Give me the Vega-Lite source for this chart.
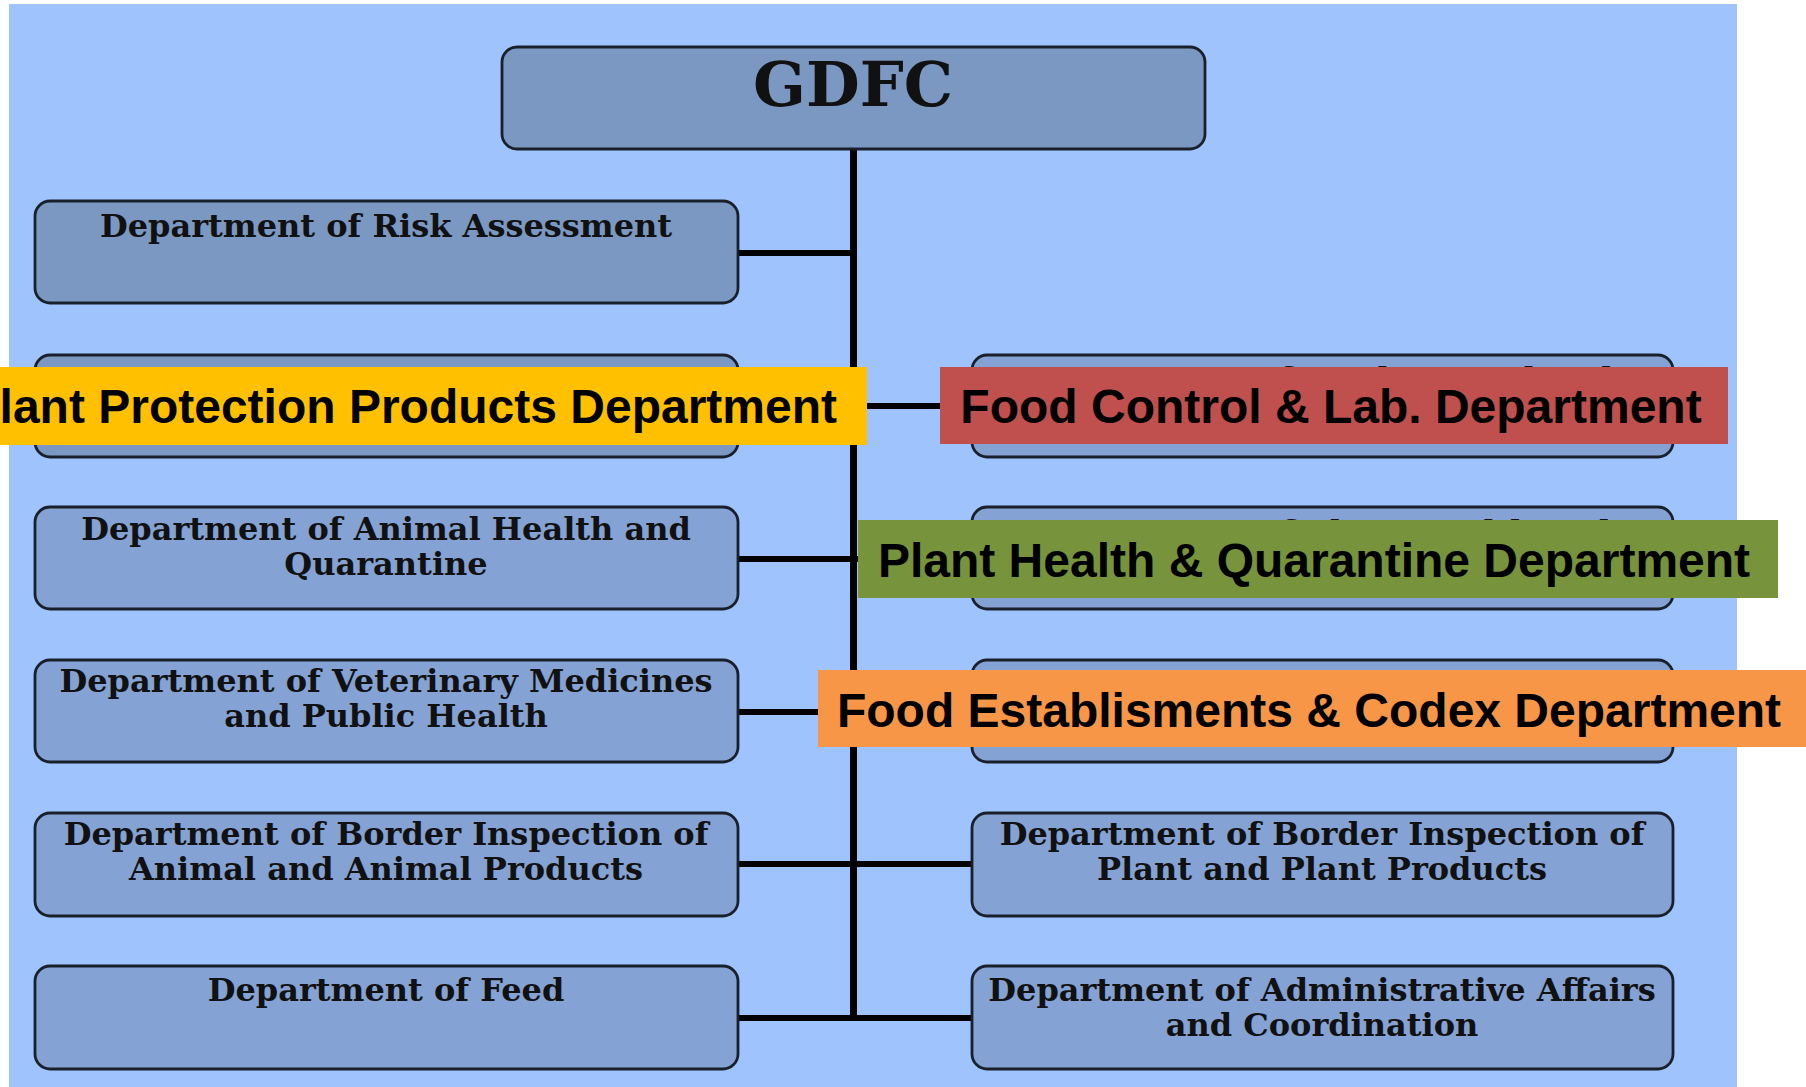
{
  "$schema": "https://vega.github.io/schema/vega-lite/v6.json",
  "width": 1806,
  "height": 1087,
  "autosize": {"type": "fit", "contains": "padding"},
  "padding": 0,
  "background": "#ffffff",
  "config": {"view": {"stroke": null}},
  "datasets": {
    "frame": [{"x": 9, "x2": 1737, "y": 4, "y2": 1087}],
    "boxes": [
      {"id": "GDFC", "x": 502, "x2": 1205, "y": 47, "y2": 149, "tone": "dark"},
      {"id": "L1", "x": 35, "x2": 738, "y": 201, "y2": 303, "tone": "dark"},
      {"id": "L2", "x": 35, "x2": 738, "y": 355, "y2": 457, "tone": "dark"},
      {"id": "R2", "x": 972, "x2": 1673, "y": 355, "y2": 457, "tone": "light"},
      {"id": "L3", "x": 35, "x2": 738, "y": 507, "y2": 609, "tone": "light"},
      {"id": "R3", "x": 972, "x2": 1673, "y": 507, "y2": 609, "tone": "light"},
      {"id": "L4", "x": 35, "x2": 738, "y": 660, "y2": 762, "tone": "light"},
      {"id": "R4", "x": 972, "x2": 1673, "y": 660, "y2": 762, "tone": "light"},
      {"id": "L5", "x": 35, "x2": 738, "y": 813, "y2": 916, "tone": "light"},
      {"id": "R5", "x": 972, "x2": 1673, "y": 813, "y2": 916, "tone": "light"},
      {"id": "L6", "x": 35, "x2": 738, "y": 966, "y2": 1069, "tone": "light"},
      {"id": "R6", "x": 972, "x2": 1673, "y": 966, "y2": 1069, "tone": "light"}
    ],
    "trunk": [{"x": 853.5, "y": 149, "y2": 1018}],
    "branches": [
      {"x": 738, "x2": 853, "y": 253},
      {"x": 738, "x2": 972, "y": 406},
      {"x": 738, "x2": 972, "y": 559},
      {"x": 738, "x2": 972, "y": 712},
      {"x": 738, "x2": 972, "y": 864},
      {"x": 738, "x2": 972, "y": 1018}
    ],
    "title": [{"text": "GDFC", "cx": 853, "base": 106}],
    "labels": [
      {"text": "Department of Risk Assessment", "cx": 386, "base": 237},
      {"text": "Department of Food Control and", "cx": 1322, "base": 390},
      {"text": "Department of Plant Health and", "cx": 1322, "base": 543},
      {"text": "Department of Animal Health and", "cx": 386, "base": 540},
      {"text": "Quarantine", "cx": 386, "base": 575},
      {"text": "Department of Veterinary Medicines", "cx": 386, "base": 692},
      {"text": "and Public Health", "cx": 386, "base": 727},
      {"text": "Department of Border Inspection of", "cx": 386, "base": 845},
      {"text": "Animal and Animal Products", "cx": 386, "base": 880},
      {"text": "Department of Border Inspection of", "cx": 1322, "base": 845},
      {"text": "Plant and Plant Products", "cx": 1322, "base": 880},
      {"text": "Department of Feed", "cx": 386, "base": 1001},
      {"text": "Department of Administrative Affairs", "cx": 1322, "base": 1001},
      {"text": "and Coordination", "cx": 1322, "base": 1036}
    ],
    "bands": [
      {"band": "Plant Protection Products Department", "x": 0, "x2": 867, "y": 367, "y2": 445, "tx": 837, "base": 423, "anchor": "end"},
      {"band": "Food Control & Lab. Department", "x": 940, "x2": 1728, "y": 367, "y2": 444, "tx": 1331, "base": 423, "anchor": "middle"},
      {"band": "Plant Health & Quarantine Department", "x": 858, "x2": 1778, "y": 520, "y2": 598, "tx": 1314, "base": 577, "anchor": "middle"},
      {"band": "Food Establisments & Codex Department", "x": 818, "x2": 1806, "y": 670, "y2": 747, "tx": 1309, "base": 727, "anchor": "middle"}
    ]
  },
  "layer": [
    {
      "data": {"name": "frame"},
      "mark": {"type": "rect", "fill": "#9EC3FD", "clip": true},
      "encoding": {
        "x": {"field": "x", "type": "quantitative", "scale": {"domain": [0, 1806], "nice": false, "zero": false}, "axis": null},
        "x2": {"field": "x2"},
        "y": {"field": "y", "type": "quantitative", "scale": {"domain": [0, 1087], "reverse": true, "nice": false, "zero": false}, "axis": null},
        "y2": {"field": "y2"}
      }
    },
    {
      "data": {"name": "trunk"},
      "mark": {"type": "rule", "color": "#000000", "strokeWidth": 7, "clip": true},
      "encoding": {
        "x": {"field": "x", "type": "quantitative"},
        "y": {"field": "y", "type": "quantitative"},
        "y2": {"field": "y2"}
      }
    },
    {
      "data": {"name": "branches"},
      "mark": {"type": "rule", "color": "#000000", "strokeWidth": 6, "clip": true},
      "encoding": {
        "x": {"field": "x", "type": "quantitative"},
        "x2": {"field": "x2"},
        "y": {"field": "y", "type": "quantitative"}
      }
    },
    {
      "data": {"name": "boxes"},
      "mark": {"type": "rect", "cornerRadius": 15, "stroke": "#1A202A", "strokeWidth": 2.8, "clip": true},
      "encoding": {
        "x": {"field": "x", "type": "quantitative"},
        "x2": {"field": "x2"},
        "y": {"field": "y", "type": "quantitative"},
        "y2": {"field": "y2"},
        "fill": {"field": "tone", "type": "nominal", "scale": {"domain": ["dark", "light"], "range": ["#7B98C3", "#84A2D3"]}, "legend": null}
      }
    },
    {
      "data": {"name": "title"},
      "mark": {"type": "text", "font": "DejaVu Serif", "fontWeight": "bold", "fontSize": 62, "align": "center", "baseline": "alphabetic", "color": "#111111", "clip": true},
      "encoding": {
        "x": {"field": "cx", "type": "quantitative"},
        "y": {"field": "base", "type": "quantitative"},
        "text": {"field": "text"}
      }
    },
    {
      "data": {"name": "labels"},
      "mark": {"type": "text", "font": "DejaVu Serif", "fontWeight": "bold", "fontSize": 32, "align": "center", "baseline": "alphabetic", "color": "#111111", "clip": true},
      "encoding": {
        "x": {"field": "cx", "type": "quantitative"},
        "y": {"field": "base", "type": "quantitative"},
        "text": {"field": "text"}
      }
    },
    {
      "data": {"name": "bands"},
      "mark": {"type": "rect", "clip": true},
      "encoding": {
        "x": {"field": "x", "type": "quantitative"},
        "x2": {"field": "x2"},
        "y": {"field": "y", "type": "quantitative"},
        "y2": {"field": "y2"},
        "color": {"field": "band", "type": "nominal", "scale": {"domain": ["Plant Protection Products Department", "Food Control & Lab. Department", "Plant Health & Quarantine Department", "Food Establisments & Codex Department"], "range": ["#FFC000", "#C0504D", "#77933C", "#F79646"]}, "legend": null}
      }
    },
    {
      "data": {"name": "bands"},
      "transform": [{"filter": "datum.anchor == 'end'"}],
      "mark": {"type": "text", "font": "Liberation Sans", "fontWeight": "bold", "fontSize": 48, "align": "right", "baseline": "alphabetic", "color": "#000000", "clip": true},
      "encoding": {
        "x": {"field": "tx", "type": "quantitative"},
        "y": {"field": "base", "type": "quantitative"},
        "text": {"field": "band"}
      }
    },
    {
      "data": {"name": "bands"},
      "transform": [{"filter": "datum.anchor == 'middle'"}],
      "mark": {"type": "text", "font": "Liberation Sans", "fontWeight": "bold", "fontSize": 48, "align": "center", "baseline": "alphabetic", "color": "#000000", "clip": true},
      "encoding": {
        "x": {"field": "tx", "type": "quantitative"},
        "y": {"field": "base", "type": "quantitative"},
        "text": {"field": "band"}
      }
    }
  ]
}
